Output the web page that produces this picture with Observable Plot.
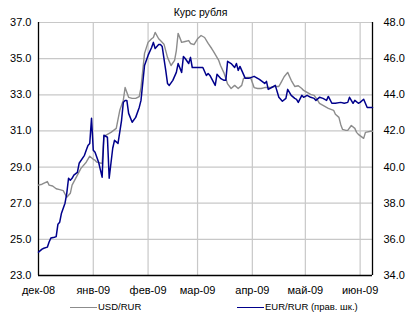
<!DOCTYPE html>
<html><head><meta charset="utf-8">
<script src="https://cdn.jsdelivr.net/npm/d3@7"></script>
<script src="https://cdn.jsdelivr.net/npm/@observablehq/plot@0.6"></script>
<style>
body{margin:0;background:#fff;font-family:"Liberation Sans",Arial,sans-serif;color:#000;}
#wrap{position:relative;width:406px;height:312px;overflow:hidden;}
#title{position:absolute;top:6px;left:0;width:401px;text-align:center;font-size:10.5px;line-height:12px;}
#legend{position:absolute;top:301px;left:0;width:406px;height:12px;font-size:9.5px;line-height:12px;}
.item{position:absolute;top:0;display:flex;align-items:center;white-space:nowrap;height:12px;}
.sw{display:inline-block;width:27px;height:0;border-top:1.5px solid;margin-right:1px;}
</style></head><body>
<div id="wrap"><div id="chart"></div><div id="title">Курс рубля</div><div id="legend"></div></div>
<script>
const seriesNames = ["USD/RUR", "EUR/RUR (прав. шк.)"];
const seriesColors = ["#8c8c8c", "#00008b"];
const leftDomain = [23, 37];
const rightDomain = [34, 48];
const leftTicks = [23, 25, 27, 29, 31, 33, 35, 37];
const rightTicks = [34, 36, 38, 40, 42, 44, 46, 48];
const monthTicks = ["2008-12-01","2009-01-01","2009-02-01","2009-03-01","2009-04-01","2009-05-01","2009-06-01"];
const monthLabels = ["дек-08","янв-09","фев-09","мар-09","апр-09","май-09","июн-09"];
const xStart = "2008-12-01", xEnd = "2009-06-08";

const usdDates = ["2008-12-01","2008-12-03","2008-12-06","2008-12-07","2008-12-09","2008-12-11","2008-12-13","2008-12-15","2008-12-17","2008-12-19","2008-12-20","2008-12-23","2008-12-25","2008-12-28","2008-12-30",
"2009-01-01","2009-01-02","2009-01-03","2009-01-06","2009-01-07","2009-01-08","2009-01-11","2009-01-14","2009-01-16","2009-01-18","2009-01-19","2009-01-21","2009-01-23","2009-01-25","2009-01-27","2009-01-28","2009-01-30",
"2009-02-01","2009-02-03","2009-02-04","2009-02-05","2009-02-07","2009-02-08","2009-02-10","2009-02-12","2009-02-14","2009-02-16","2009-02-17","2009-02-18","2009-02-20","2009-02-22","2009-02-24","2009-02-25","2009-02-27",
"2009-03-01","2009-03-03","2009-03-05","2009-03-07","2009-03-09","2009-03-10","2009-03-13","2009-03-14","2009-03-16","2009-03-18","2009-03-20","2009-03-22","2009-03-24","2009-03-26","2009-03-27","2009-03-29","2009-03-31",
"2009-04-02","2009-04-04","2009-04-06","2009-04-08","2009-04-10","2009-04-11","2009-04-13","2009-04-16","2009-04-17","2009-04-19","2009-04-21","2009-04-23","2009-04-25","2009-04-27","2009-04-29","2009-04-30",
"2009-05-02","2009-05-04","2009-05-06","2009-05-08","2009-05-09","2009-05-11","2009-05-13","2009-05-14","2009-05-17","2009-05-18","2009-05-20","2009-05-21","2009-05-22","2009-05-24","2009-05-25","2009-05-27","2009-05-29","2009-05-30","2009-05-31",
"2009-06-03","2009-06-04","2009-06-07","2009-06-08"];
const usdRates = [28.0,28.05,28.2,28.0,27.95,27.8,27.75,27.7,27.33,27.55,28.0,28.55,28.93,29.27,29.6,
29.43,29.38,29.27,29.2,30.65,30.76,30.92,31.14,32.14,32.7,33.4,32.86,32.8,32.8,32.9,33.4,35.29,
35.9,36.1,36.17,36.45,36.1,36.0,35.8,35.07,34.62,34.9,35.45,36.4,35.9,35.95,36.0,35.84,35.78,
36.1,36.28,36.17,35.84,35.56,35.4,34.9,34.62,34.2,33.6,33.35,33.52,33.35,33.52,33.9,33.96,33.96,
33.4,33.35,33.35,33.4,33.4,33.4,33.46,33.46,33.63,34.0,34.24,33.8,33.46,33.5,33.35,33.24,
33.13,33.02,32.97,32.69,32.52,32.41,32.3,32.25,32.14,31.92,31.75,31.36,31.09,31.03,31.03,31.3,31.14,30.92,30.81,
30.59,30.92,30.98,30.98];

const eurDates = ["2008-12-01","2008-12-03","2008-12-04","2008-12-06","2008-12-07","2008-12-08","2008-12-10","2008-12-11","2008-12-12","2008-12-13","2008-12-14","2008-12-16","2008-12-17","2008-12-18","2008-12-19","2008-12-20","2008-12-21","2008-12-23","2008-12-24","2008-12-27","2008-12-28","2008-12-29","2008-12-30","2008-12-31",
"2009-01-01","2009-01-02","2009-01-04","2009-01-06","2009-01-07","2009-01-09","2009-01-10","2009-01-12","2009-01-13","2009-01-15","2009-01-17","2009-01-18","2009-01-19","2009-01-20","2009-01-21","2009-01-23","2009-01-25","2009-01-27","2009-01-28","2009-01-30",
"2009-02-01","2009-02-03","2009-02-04","2009-02-05","2009-02-07","2009-02-08","2009-02-09","2009-02-10","2009-02-11","2009-02-12","2009-02-13","2009-02-15","2009-02-17","2009-02-18","2009-02-20","2009-02-21","2009-02-22","2009-02-24","2009-02-25","2009-02-26",
"2009-03-01","2009-03-03","2009-03-04","2009-03-06","2009-03-07","2009-03-08","2009-03-11","2009-03-12","2009-03-14","2009-03-15","2009-03-16","2009-03-17","2009-03-18","2009-03-20","2009-03-22","2009-03-23","2009-03-24","2009-03-25","2009-03-27","2009-03-28","2009-03-30",
"2009-04-02","2009-04-05","2009-04-08","2009-04-09","2009-04-10","2009-04-13","2009-04-14","2009-04-16","2009-04-18","2009-04-20","2009-04-21","2009-04-23","2009-04-25","2009-04-26","2009-04-27","2009-04-29","2009-04-30",
"2009-05-02","2009-05-04","2009-05-06","2009-05-07","2009-05-09","2009-05-11","2009-05-13","2009-05-14","2009-05-16","2009-05-18","2009-05-21","2009-05-23","2009-05-25","2009-05-26","2009-05-28","2009-05-29","2009-05-31",
"2009-06-01","2009-06-03","2009-06-05","2009-06-07","2009-06-08"];
const eurRates = [35.29,35.46,35.51,35.57,35.85,36.07,36.12,36.15,36.84,36.95,37.45,38.0,38.55,39.38,39.27,39.38,39.55,39.71,40.21,40.65,40.93,41.2,41.31,42.7,
40.93,40.82,40.27,39.44,41.76,41.65,39.38,41.04,41.48,41.31,42.59,43.58,43.69,43.69,42.97,42.48,42.75,43.3,43.69,45.62,
46.18,46.62,46.9,46.56,46.78,46.78,46.67,46.0,45.35,44.63,44.52,44.8,45.24,45.73,45.24,46.12,46.01,45.73,46.07,45.51,
45.51,45.51,45.51,45.07,45.18,45.07,44.52,45.13,44.91,44.85,44.8,44.8,45.85,45.73,45.51,45.73,45.35,45.57,45.13,44.91,44.91,
45.02,44.85,44.63,44.74,44.3,44.46,44.52,43.86,43.64,43.8,44.3,43.97,43.8,43.75,43.58,43.97,43.86,
43.97,43.86,43.8,43.69,43.86,43.8,43.69,43.91,43.53,43.53,43.58,43.53,43.58,43.86,43.53,43.69,43.53,
43.58,43.75,43.3,43.3,43.3];

const parse = d3.utcParse("%Y-%m-%d");
const usd = usdDates.map((d, i) => ({date: parse(d), v: usdRates[i]}));
const eur = eurDates.map((d, i) => ({date: parse(d), v: eurRates[i]}));
const toLeft = d3.scaleLinear().domain(rightDomain).range(leftDomain);
const xDomain = [parse(xStart), parse(xEnd)];
const monthDates = monthTicks.map(parse);
const labelOf = new Map(monthDates.map((d, i) => [+d, monthLabels[i]]));
const f1 = d3.format(".1f");
const gridStyle = {stroke: "#c8c8c8", strokeOpacity: 1, strokeWidth: 1.2};

const chart = Plot.plot({
  width: 406, height: 300,
  marginLeft: 38, marginRight: 34, marginTop: 22, marginBottom: 25,
  style: {fontFamily: '"Liberation Sans", Arial, sans-serif', fontSize: "11px", color: "#000", background: "#fff"},
  x: {type: "utc", domain: xDomain},
  y: {domain: leftDomain},
  marks: [
    Plot.gridY(leftTicks, gridStyle),
    Plot.gridX(monthDates.slice(1), gridStyle),
    Plot.axisY(leftTicks, {anchor: "left", tickSize: 0, tickPadding: 7, tickFormat: f1, label: null}),
    Plot.axisY(rightTicks.map(toLeft), {anchor: "right", tickSize: 0, tickPadding: 11, tickFormat: d => f1(toLeft.invert(d)), label: null}),
    Plot.axisX(monthDates, {anchor: "bottom", tickSize: 0, tickPadding: 11, tickFormat: d => labelOf.get(+d), label: null}),
    Plot.ruleX(xDomain, {stroke: "#000", strokeWidth: 1.3}),
    Plot.ruleY([leftDomain[0]], {stroke: "#000", strokeWidth: 1.3}),
    Plot.line(usd, {x: "date", y: "v", stroke: seriesColors[0], strokeWidth: 1.4}),
    Plot.line(eur, {x: "date", y: d => toLeft(d.v), stroke: seriesColors[1], strokeWidth: 1.5})
  ]
});
document.getElementById("chart").append(chart);

const legend = document.getElementById("legend");
const legendLeft = [70, 237];
seriesNames.forEach((name, i) => {
  const it = document.createElement("div");
  it.className = "item";
  it.style.left = legendLeft[i] + "px";
  const sw = document.createElement("span");
  sw.className = "sw";
  sw.style.borderTopColor = seriesColors[i];
  const tx = document.createElement("span");
  tx.textContent = name;
  it.append(sw, tx);
  legend.append(it);
});
</script></body></html>
